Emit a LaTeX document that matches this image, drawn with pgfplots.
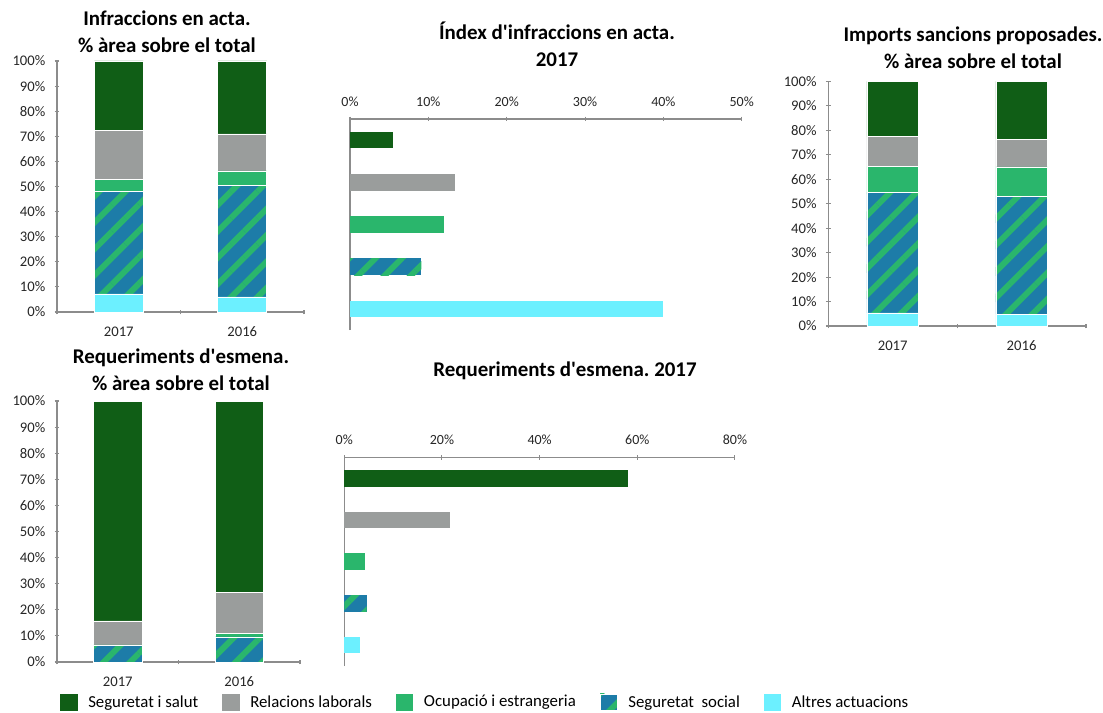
\documentclass[border=0pt]{standalone}
\usepackage{fontspec}
\setmainfont{Carlito}[Ligatures=TeXOff]
\usepackage{pgfplots}
\pgfplotsset{compat=1.18}
\usetikzlibrary{patterns.meta}
\frenchspacing

\definecolor{dg}{RGB}{16,94,22}
\definecolor{gr}{RGB}{154,157,156}
\definecolor{lg}{RGB}{42,182,108}
\definecolor{bl}{RGB}{29,124,168}
\definecolor{cy}{RGB}{108,240,255}
\definecolor{axgray}{RGB}{140,140,140}

\tikzset{
  hatch/.style={fill=bl, postaction={pattern={Lines[angle=45,distance=14pt,line width=4.4pt]}, pattern color=lg}},
  ttl/.style={font=\fontsize{15.7}{20}\selectfont\bfseries, align=center}
}

\pgfplotsset{
  base/.style={scale only axis, clip=false,
    axis line style={-, draw=axgray, line width=0.8pt},
    x axis line style={-}, y axis line style={-},
    every non boxed x axis/.append style={x axis line style={-}},
    every non boxed y axis/.append style={y axis line style={-}},
    tick style={draw=axgray, line width=0.8pt},
    tick align=outside, major tick length=3.5pt,
    ticklabel style={font=\fontsize{11}{13}\selectfont, text=black!85},
    /pgf/number format/assume math mode=true},
  stk/.style={base, ybar stacked, axis x line=bottom, axis y line=left,
    ymin=0, ymax=100, ytick={0,10,...,100},
    yticklabel={\pgfmathprintnumber{\tick}\%},
    yticklabel style={xshift=-3.5pt},
    xmin=-0.5, xmax=1.5, xtick={-0.5,0.5,1.5}, xticklabels={},
    extra x ticks={0,1}, extra x tick labels={2017,2016},
    extra x tick style={major tick length=0pt, xticklabel style={yshift=-7.5pt}},
    every axis plot/.append style={draw=white, line width=0.4pt}},
  hb/.style={base, xbar, axis x line=top, axis y line=left,
    xmin=0, ymin=0.5, ymax=5.5, ytick=\empty,
    ticklabel style={font=\fontsize{10.5}{12}\selectfont},
    xticklabel={\pgfmathprintnumber{\tick}\%},
    xticklabel style={yshift=4pt},
    bar shift=0pt, bar width=12.5pt,
    every axis plot/.append style={draw=none}},
}

\begin{document}
\begin{tikzpicture}
\useasboundingbox (0,0) rectangle (827.25pt,-534.75pt);

% Infraccions en acta, % area
\node[ttl] at (125.25pt,-23.6pt) {Infraccions en acta.\\\% àrea sobre el total};
\begin{axis}[stk, at={(42.75pt,-234pt)}, anchor=south west,
  width=185.25pt, height=188.25pt, bar width=36.75pt]
\addplot[fill=cy] coordinates {(0,7.2) (1,6.0)};
\addplot[hatch] coordinates {(0,40.8) (1,44.5)};
\addplot[fill=lg] coordinates {(0,4.7) (1,5.7)};
\addplot[fill=gr] coordinates {(0,19.8) (1,14.8)};
\addplot[fill=dg] coordinates {(0,27.5) (1,29.0)};
\end{axis}

% Index d'infraccions en acta 2017
\node[ttl] at (417.75pt,-33.4pt) {Índex d'infraccions en acta.\\2017};
\begin{axis}[hb, at={(262.5pt,-247.5pt)}, anchor=south west,
  width=293.8pt, height=158.25pt, xmax=50, xtick={0,10,...,50}]
\addplot[fill=dg] coordinates {(5.5,5)};
\addplot[fill=gr] coordinates {(13.4,4)};
\addplot[fill=lg] coordinates {(12.0,3)};
\addplot[hatch] coordinates {(9.1,2)};
\addplot[fill=cy] coordinates {(40.0,1)};
\end{axis}

% Imports sancions proposades
\node[ttl] at (729.75pt,-35.6pt) {Imports sancions proposades.\\\% àrea sobre el total};
\begin{axis}[stk, at={(621.2pt,-244.5pt)}, anchor=south west,
  width=193.3pt, height=183.5pt, bar width=38.6pt]
\addplot[fill=cy] coordinates {(0,5.4) (1,4.9)};
\addplot[hatch] coordinates {(0,49.1) (1,48.0)};
\addplot[fill=lg] coordinates {(0,10.6) (1,12.1)};
\addplot[fill=gr] coordinates {(0,12.3) (1,11.4)};
\addplot[fill=dg] coordinates {(0,22.6) (1,23.6)};
\end{axis}

% Requeriments d'esmena, % area
\node[ttl] at (135.75pt,-277.5pt) {Requeriments d'esmena.\\\% àrea sobre el total};
\begin{axis}[stk, at={(42.75pt,-496.5pt)}, anchor=south west,
  width=182.25pt, height=195.75pt, bar width=36.2pt,
  reverse legend, legend columns=5, legend cell align=left,
  legend image code/.code={\fill[#1, draw=none] (0pt,-6.3pt) rectangle (13pt,6.3pt);},
  legend style={at={(0.0123,-0.154)}, anchor=west, draw=none, fill=none,
    inner sep=0pt, font=\fontsize{12.6}{14}\selectfont,
    /tikz/every even column/.append style={column sep=16pt},
    /tikz/every odd column/.append style={column sep=6pt}}]
\addplot[fill=cy, draw=none] coordinates {(0,0) (1,0)};
\addlegendentry{Altres actuacions}
\addplot[hatch] coordinates {(0,6.3) (1,9.6)};
\addlegendentry{Seguretat\ \ social}
\addplot[fill=lg] coordinates {(0,0.3) (1,1.3)};
\addlegendentry{Ocupació i estrangeria}
\addplot[fill=gr] coordinates {(0,9.2) (1,15.8)};
\addlegendentry{Relacions laborals}
\addplot[fill=dg] coordinates {(0,84.2) (1,73.3)};
\addlegendentry{Seguretat i salut}
\end{axis}

% Requeriments d'esmena 2017
\node[ttl] at (423.75pt,-278.25pt) {Requeriments d'esmena. 2017};
\begin{axis}[hb, at={(258.2pt,-499.5pt)}, anchor=south west,
  width=293pt, height=156.5pt, xmax=80, xtick={0,20,...,80}]
\addplot[fill=dg] coordinates {(58.0,5)};
\addplot[fill=gr] coordinates {(21.6,4)};
\addplot[fill=lg] coordinates {(4.2,3)};
\addplot[hatch] coordinates {(4.6,2)};
\addplot[fill=cy] coordinates {(3.2,1)};
\end{axis}
\end{tikzpicture}
\end{document}
